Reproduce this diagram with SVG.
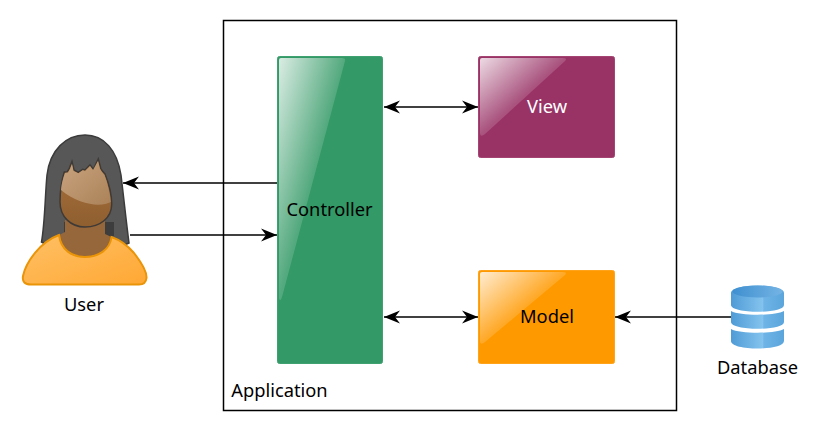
<svg xmlns="http://www.w3.org/2000/svg" width="821" height="431" viewBox="0 0 821 431">
<style>
text{font-family:"Noto Sans","Open Sans",sans-serif;font-size:18.3px;fill:#000;text-anchor:middle}
.c{fill:none;stroke:#000;stroke-width:1.4}
.hair{fill:#575757}
</style>
<defs>
<marker id="ah" viewBox="0 0 17 14" refX="16" refY="7" markerWidth="17" markerHeight="14" markerUnits="userSpaceOnUse" orient="auto-start-reverse"><path d="M0 0.500L16 7L0 13.500L5 7Z" fill="#000"/></marker>
<linearGradient id="gloss" x1="0" y1="0" x2="1" y2="1"><stop offset="0" stop-color="#fff" stop-opacity=".82"/><stop offset=".5" stop-color="#fff" stop-opacity=".16"/><stop offset="1" stop-color="#fff" stop-opacity=".05"/></linearGradient>
<linearGradient id="shirt" x1="0" y1="0" x2="1" y2="1"><stop offset="0" stop-color="#ffc065"/><stop offset="1" stop-color="#ffa834"/></linearGradient>
<linearGradient id="skin" x1="0" y1="0" x2="0" y2="1"><stop offset="0" stop-color="#a8703a"/><stop offset="1" stop-color="#8f5f30"/></linearGradient>
<linearGradient id="hl" x1="0" y1="0" x2="1" y2="1"><stop offset="0" stop-color="#c9a480"/><stop offset="1" stop-color="#ab8258"/></linearGradient>
<linearGradient id="dbb" x1="0" y1="0" x2="1" y2="0"><stop offset="0" stop-color="#4f9bd6"/><stop offset=".6" stop-color="#84c3ee"/><stop offset=".62" stop-color="#6fb4e6"/><stop offset="1" stop-color="#5aa5dc"/></linearGradient>
<linearGradient id="dbt" x1="0" y1="0" x2="1" y2="0"><stop offset="0" stop-color="#3f8fd0"/><stop offset="1" stop-color="#74b4e4"/></linearGradient>
</defs>
<g id="application"><rect x="223.500" y="20.500" width="453" height="390" fill="#fff" stroke="#000" stroke-width="1.500"/><text x="279.500" y="397">Application</text></g>
<g id="connectors">
<path class="c" d="M277 183H123" marker-end="url(#ah)"/>
<path class="c" d="M130 235H277" marker-end="url(#ah)"/>
<path class="c" d="M384 107H478" marker-start="url(#ah)" marker-end="url(#ah)"/>
<path class="c" d="M384 317H478" marker-start="url(#ah)" marker-end="url(#ah)"/>
<path class="c" d="M731 317H615" marker-end="url(#ah)"/>
</g>
<g id="user">
<path class="hair" d="M41.500 242C45 222 45 196 47 175C50 150 66 135 85 135C104 135 117 150 121 175C124 200 126 220 129 243C115 250 55 250 41.500 242Z" stroke="#3b3b3b" stroke-width="1.500"/>
<path d="M64 222V236H59L60 240H112L111.500 236H114V222Z" fill="#3d3d3d"/>
<path d="M65 220H105V234L111.500 237C110 250 98 258 85 258C72 258 61 250 59 235L65 232Z" fill="#96673a"/>
<path d="M59 235C61 250 72 257 85 257C98 257 110 250 111.500 237C120 240 128 246 134 253C141 262 147 271 146.500 278C146 283 143 284.500 139 284.500H31C25 284.500 22 282 23 276C26 262 40 242 59 235Z" fill="url(#shirt)" stroke="#ea9408" stroke-width="2"/>
<path d="M64.300 172L67.300 171.700L69.300 168.300L72 161.500L74 170L78.300 172.300L82.700 169.300L85 170L90 165L93.300 169.300L98.300 159L100.700 168.300L102.300 171L105 174C109 184 111.700 194 111.700 204C111.700 218 100 227 85 227C71 227 60 217 60 202C60 192 61.500 181 64.300 172Z" fill="url(#skin)" stroke="#3f3a36" stroke-width="1.500"/>
<path d="M65 173L68 172.500L70 169L72 164L73.500 171L78.300 173.300L82.700 170.300L85 171L90 166L93 170L98 161L100 169L102 172L104.500 175C107.500 183 110 193 110.800 202C102 207 80 206 61 190C61.500 184 63 178 65 173Z" fill="url(#hl)"/>
<text x="84" y="311">User</text>
</g>
<g id="controller">
<rect x="277.500" y="56.500" width="105" height="307" rx="2" fill="#339966" stroke="#3fa070"/>
<path d="M279 60Q279 58 281 58H342Q346 58 345 61L282 297Q280 303 279 298Z" fill="url(#gloss)"/>
<text x="329.500" y="216">Controller</text>
</g>
<g id="view">
<rect x="478.500" y="56.500" width="136" height="101" rx="2" fill="#993366" stroke="#a34472"/>
<path d="M480 60Q480 58 482 58H562Q568 58 565 61L485 134Q480 138 480 133Z" fill="url(#gloss)"/>
<text x="547" y="113" style="fill:#fff">View</text>
</g>
<g id="model">
<rect x="478.500" y="270.500" width="136" height="93" rx="2" fill="#ff9900" stroke="#ffa31a"/>
<path d="M480 274Q480 272 482 272H562Q568 272 565 275L485 342Q480 346 480 341Z" fill="url(#gloss)"/>
<text x="547" y="323">Model</text>
</g>
<g id="database">
<path d="M731 293C731 283 784 283 784 293V305C784 314 731 314 731 305Z" fill="url(#dbb)"/>
<ellipse cx="757.500" cy="291.500" rx="25" ry="6" fill="url(#dbt)"/>
<path d="M731 311C740 316 775 316 784 311V322C784 331 731 331 731 322Z" fill="url(#dbb)"/>
<path d="M731 329C740 334 775 334 784 329V341C784 351 731 351 731 341Z" fill="url(#dbb)"/>
<text x="757.500" y="374">Database</text>
</g>
</svg>
